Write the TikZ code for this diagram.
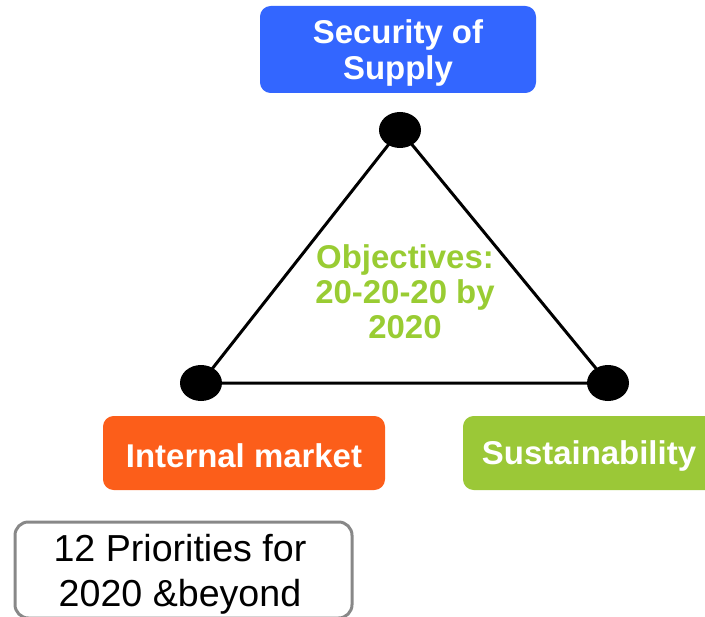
\documentclass[tikz,border=0pt]{standalone}
\usepackage{fontspec}
\setmainfont{Liberation Sans}
\usetikzlibrary{shapes.geometric}
\definecolor{secblue}{RGB}{51,102,255}
\definecolor{mktorange}{RGB}{252,94,26}
\definecolor{susgreen}{RGB}{155,200,55}
\definecolor{objgreen}{RGB}{153,204,51}
\definecolor{prigray}{RGB}{136,136,136}
\tikzset{
  colbox/.style={rectangle, rounded corners=8pt, inner sep=0pt},
  boxtext/.style={text=white, font=\bfseries\fontsize{24.7}{27}\selectfont, align=center, inner sep=0pt},
  dot/.style={ellipse, fill=black, inner sep=0pt, minimum width=31.5pt, minimum height=27pt},
  edge/.style={line width=2.25pt, black},
}
\begin{document}
\begin{tikzpicture}[x=0.75pt,y=-0.75pt]
\useasboundingbox (0,0) rectangle (705,616);
\clip (0,0) rectangle (705,616);
% boxes
\node[colbox, fill=secblue, minimum width=207pt, minimum height=65.25pt] (sec) at (398,49.5) {};
\node[boxtext] (secT) at (398,53) {Security of\\Supply};
\node[colbox, fill=mktorange, minimum width=211.5pt, minimum height=55.5pt] (mkt) at (244,453) {};
\node[boxtext] (mktT) at (244,455.5) {Internal market};
\node[colbox, fill=susgreen, minimum width=195pt, minimum height=55.5pt] (sus) at (593,453) {};
\node[boxtext] (susT) at (589,456) {Sustainability};
% triangle
\node[dot] (t) at (400,130) {};
\node[dot] (l) at (201,383) {};
\node[dot] (r) at (608,383) {};
\draw[edge] (t.center) -- (l.center) -- (r.center) -- cycle;
\node[text=objgreen, font=\bfseries\fontsize{24.7}{26.25}\selectfont, align=center] (obj) at (405,292) {Objectives:\\20-20-20 by\\2020};
% priorities
\draw[prigray, line width=2.25pt, rounded corners=10pt] (15,522) rectangle (352,618);
\node[font=\fontsize{28.2}{33.75}\selectfont, align=center, text=black] (pri) at (180,574) {12 Priorities for\\2020 \&beyond};
\end{tikzpicture}
\end{document}
